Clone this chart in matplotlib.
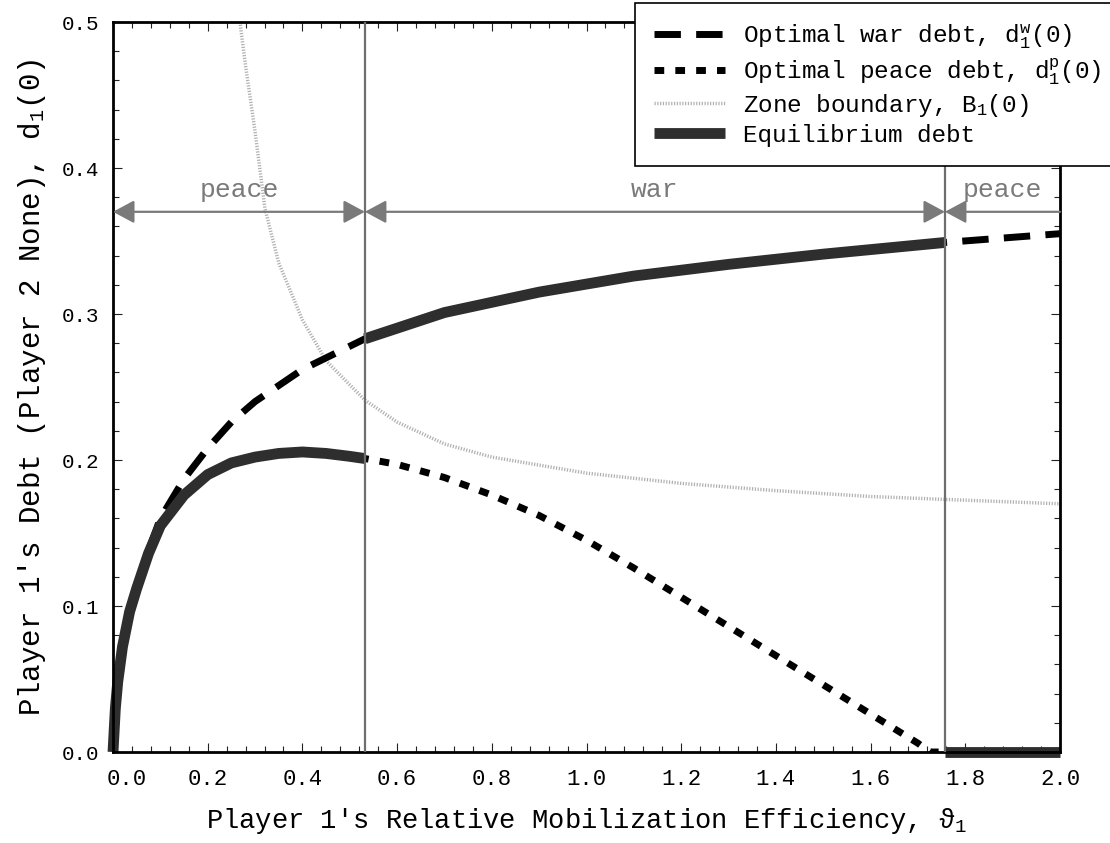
import matplotlib
matplotlib.use('Agg')
import matplotlib.pyplot as plt
import matplotlib.transforms as mtransforms
import numpy as np

mono = 'Liberation Mono'
plt.rcParams['font.family'] = [mono, 'DejaVu Sans']
plt.rcParams['mathtext.fontset'] = 'custom'
plt.rcParams['mathtext.rm'] = mono
plt.rcParams['mathtext.it'] = mono

# switching points between peace and war zones
theta_low = 0.532
theta_high = 1.757

# optimal war debt d1^w(0)
war_x = [0, 0.005, 0.01, 0.02, 0.035, 0.05, 0.075, 0.1, 0.15, 0.2, 0.25, 0.3, 0.4,
         0.532, 0.7, 0.9, 1.1, 1.3, 1.5, 1.757, 2.0]
war_y = [0, 0.03, 0.048, 0.072, 0.096, 0.112, 0.138, 0.160, 0.187, 0.208, 0.226, 0.240, 0.262,
         0.283, 0.301, 0.315, 0.326, 0.334, 0.341, 0.349, 0.355]

# optimal peace debt d1^p(0)
peace_x = [0, 0.005, 0.01, 0.02, 0.035, 0.05, 0.075, 0.1, 0.15, 0.2, 0.25, 0.3, 0.35, 0.4, 0.45, 0.5,
           0.532, 0.6, 0.7, 0.8, 0.9, 1.0, 1.1, 1.2, 1.3, 1.4, 1.5, 1.6, 1.7, 1.725, 1.757, 2.0]
peace_y = [0, 0.03, 0.048, 0.072, 0.096, 0.112, 0.136, 0.155, 0.176, 0.190, 0.198, 0.202, 0.2045, 0.2055, 0.2045, 0.2025,
           0.201, 0.197, 0.188, 0.176, 0.162, 0.145, 0.126, 0.106, 0.086, 0.066, 0.046, 0.026, 0.006, 0.0, 0.0, 0.0]

# zone boundary B1(0)
zone_x = [0.268, 0.28, 0.30, 0.321, 0.35, 0.40, 0.45, 0.532, 0.6, 0.7, 0.8, 1.0, 1.2, 1.4, 1.6, 1.757, 2.0]
zone_y = [0.500, 0.470, 0.425, 0.372, 0.335, 0.296, 0.268, 0.241, 0.226, 0.211, 0.202, 0.191, 0.184, 0.179, 0.175, 0.173, 0.170]

zones = ['peace', 'war', 'peace']
zone_edges = [0.0, theta_low, theta_high, 2.0]
arrow_y = 0.37

war_x, war_y = np.array(war_x), np.array(war_y)
peace_x, peace_y = np.array(peace_x), np.array(peace_y)

fig = plt.figure(figsize=(11.1, 8.43), dpi=100)
ax = fig.add_axes([113/1110, 1 - 752/843, (1060 - 113)/1110, (752 - 22)/843])

ax.plot(zone_x, zone_y, color='#b0b0b0', lw=2.5, ls=(0, (0.35, 0.45)), label='Zone boundary, B$_1$(0)')
ax.plot(war_x, war_y, color='black', lw=5, ls=(0, (3.8, 2.2)), label='Optimal war debt, d$_1^w$(0)')
ax.plot(peace_x, peace_y, color='black', lw=5, ls=(0, (1.4, 1.6)), label='Optimal peace debt, d$_1^p$(0)')

# equilibrium: peace below theta_low, war between, zero above theta_high
eq_col = '#2e2e2e'
m1 = peace_x <= theta_low
m2 = (war_x >= theta_low) & (war_x <= theta_high)
m3 = peace_x >= theta_high
ax.plot(peace_x[m1], peace_y[m1], color=eq_col, lw=7.8, solid_capstyle='butt', clip_on=False,
        label='Equilibrium debt')
ax.plot(war_x[m2], war_y[m2], color=eq_col, lw=7.8, solid_capstyle='butt', clip_on=False)
ax.plot(peace_x[m3], peace_y[m3], color=eq_col, lw=7.8, solid_capstyle='butt', clip_on=False)

ax.axvline(theta_low, color='#6e6e6e', lw=1.6, zorder=5)
ax.axvline(theta_high, color='#6e6e6e', lw=1.6, zorder=5)

gray = '#7a7a7a'
for i, name in enumerate(zones):
    a, b = zone_edges[i], zone_edges[i + 1]
    style = '<|-|>,head_length=0.65,head_width=0.35' if b < 2.0 else '<|-,head_length=0.65,head_width=0.35'
    ax.annotate('', xy=(b, arrow_y), xytext=(a, arrow_y),
                arrowprops=dict(arrowstyle=style, color=gray, lw=1.6, mutation_scale=20,
                                shrinkA=0, shrinkB=0))
    ax.text((a + b) / 2, arrow_y + 0.007, name, color=gray, fontsize=19, ha='center', va='bottom')

ax.set_xlim(0, 2.0)
ax.set_ylim(0, 0.5)
ax.set_xticks(np.arange(0, 2.01, 0.2))
ax.set_xticks(np.arange(0, 2.01, 0.04), minor=True)
ax.set_yticks(np.arange(0, 0.51, 0.1))
ax.set_yticks(np.arange(0, 0.51, 0.02), minor=True)
ax.set_xticklabels([f'{v:.1f}' for v in np.arange(0, 2.01, 0.2)])
ax.set_yticklabels([f'{v:.1f}' for v in np.arange(0, 0.51, 0.1)])
ax.tick_params(which='both', direction='in', top=True, right=True, color='#222222')
ax.tick_params(which='major', length=6.5, width=0.8)
ax.tick_params(which='minor', length=4.3, width=0.8)
ax.tick_params(axis='x', labelsize=16, pad=12)
ax.tick_params(axis='y', labelsize=15, pad=10)
for s in ax.spines.values():
    s.set_linewidth(2)

lab0 = ax.xaxis.get_major_ticks()[0].label1
lab0.set_transform(lab0.get_transform() + mtransforms.ScaledTranslation(14/100, 0, fig.dpi_scale_trans))

ax.set_xlabel(r"Player 1's Relative Mobilization Efficiency, $\vartheta_1$", fontsize=19.5, labelpad=12)
ax.set_ylabel("Player 1's Debt (Player 2 None), d$_1$(0)", fontsize=21, labelpad=10)

h, l = ax.get_legend_handles_labels()
order = [1, 2, 0, 3]
leg = fig.legend([h[i] for i in order], [l[i] for i in order], loc='upper left',
                 bbox_to_anchor=(635/1110, 1 - 3/843), borderaxespad=0, fontsize=17.5,
                 handlelength=2.9, handletextpad=0.75, labelspacing=0.2, borderpad=0.8,
                 fancybox=False, framealpha=1, edgecolor='black')
leg.get_frame().set_linewidth(1.2)

fig.savefig('out.png', dpi=100)
